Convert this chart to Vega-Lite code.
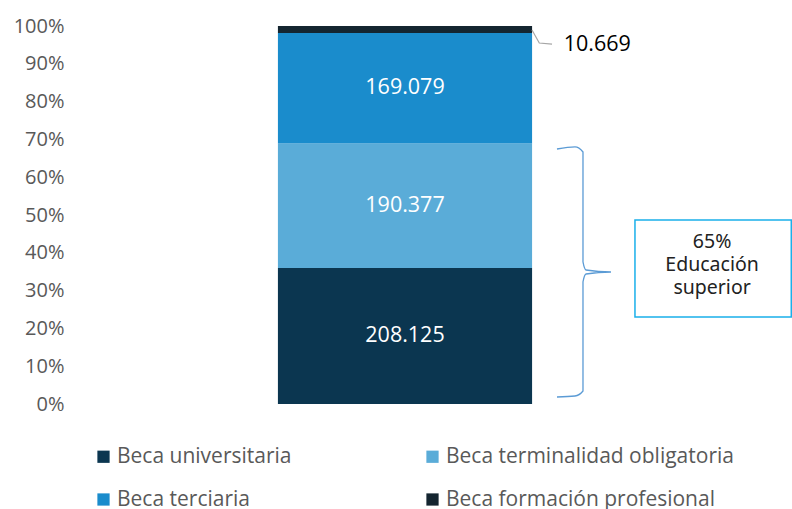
{
  "$schema": "https://vega.github.io/schema/vega-lite/v6.json",
  "autosize": "none",
  "width": 720,
  "height": 378,
  "padding": {"left": 72, "top": 26, "right": 0, "bottom": 105},
  "background": "white",
  "config": {
    "view": {"stroke": null},
    "font": "Open Sans",
    "locale": {"number": {"decimal": ",", "thousands": ".", "grouping": [3], "currency": ["$", ""]}}
  },
  "resolve": {"axis": {"y": "independent", "x": "independent"}},
  "datasets": {
    "becas": [
      {"cat": "Beca universitaria", "value": 208125},
      {"cat": "Beca terminalidad obligatoria", "value": 190377},
      {"cat": "Beca terciaria", "value": 169079},
      {"cat": "Beca formación profesional", "value": 10669}
    ],
    "brace": [
      {"i": 0, "bx": 67.36, "by": 0.6746},
      {"i": 1, "bx": 69.86, "by": 0.680},
      {"i": 2, "bx": 70.97, "by": 0.6667},
      {"i": 3, "bx": 70.97, "by": 0.3757},
      {"i": 4, "bx": 71.39, "by": 0.3545},
      {"i": 5, "bx": 74.86, "by": 0.3492},
      {"i": 6, "bx": 71.39, "by": 0.3439},
      {"i": 7, "bx": 70.97, "by": 0.3228},
      {"i": 8, "bx": 70.97, "by": 0.0344},
      {"i": 9, "bx": 69.86, "by": 0.0212},
      {"i": 10, "bx": 67.36, "by": 0.0185}
    ],
    "leader": [
      {"i": 0, "lx": 63.89, "ly": 0.9894},
      {"i": 1, "lx": 64.9, "ly": 0.955},
      {"i": 2, "lx": 66.67, "ly": 0.952}
    ],
    "box": [
      {"x1": 78.19, "x2": 99.9, "y1": 0.4868, "y2": 0.2302, "tx": 88.9, "ty": 0.4286, "label": "65%\nEducación\nsuperior"}
    ]
  },
  "layer": [
    {
      "data": {"name": "becas"},
      "transform": [
        {"stack": "value", "groupby": [], "offset": "normalize", "sort": [{"field": "value", "order": "descending"}], "as": ["y0", "y1"]}
      ],
      "mark": {"type": "bar"},
      "encoding": {
        "x": {"datum": 28.6, "type": "quantitative", "scale": {"domain": [0, 100]}, "axis": null},
        "x2": {"datum": 63.9},
        "y": {"field": "y0", "type": "quantitative", "scale": {"domain": [0, 1], "nice": false},
          "axis": {"values": [0, 0.1, 0.2, 0.3, 0.4, 0.5, 0.6, 0.7, 0.8, 0.9, 1], "format": ".0%", "labelOverlap": false, "title": null, "grid": false, "ticks": false, "domain": false, "labelFontSize": 20, "labelColor": "#595959", "labelPadding": 8}},
        "y2": {"field": "y1"},
        "color": {"field": "cat", "type": "nominal",
          "scale": {"domain": ["Beca universitaria", "Beca terminalidad obligatoria", "Beca terciaria", "Beca formación profesional"], "range": ["#0b3650", "#5aacd8", "#1a8ccc", "#142530"]},
          "legend": {"title": null, "orient": "none", "direction": "horizontal", "legendX": 21, "legendY": 420, "columns": 2, "columnPadding": 130, "rowPadding": 21, "padding": 0, "symbolType": "square", "symbolSize": 150, "symbolStrokeWidth": 0, "labelFontSize": 21, "labelColor": "#595959", "labelOffset": 3, "labelLimit": 400}}
      }
    },
    {
      "data": {"name": "becas"},
      "transform": [
        {"stack": "value", "groupby": [], "offset": "normalize", "sort": [{"field": "value", "order": "descending"}], "as": ["y0", "y1"]},
        {"filter": "datum.value > 20000"},
        {"fold": ["y0", "y1"], "as": ["edge", "pos"]},
        {"aggregate": [{"op": "mean", "field": "pos", "as": "mid"}], "groupby": ["cat", "value"]}
      ],
      "mark": {"type": "text", "color": "white", "fontSize": 21.5, "baseline": "middle", "align": "center"},
      "encoding": {
        "x": {"datum": 46.25, "type": "quantitative", "axis": null},
        "y": {"field": "mid", "type": "quantitative", "axis": null},
        "text": {"field": "value", "type": "quantitative", "format": ",d"}
      }
    },
    {
      "data": {"name": "becas"},
      "transform": [
        {"stack": "value", "groupby": [], "offset": "normalize", "sort": [{"field": "value", "order": "descending"}], "as": ["y0", "y1"]},
        {"filter": "datum.value < 20000"}
      ],
      "mark": {"type": "text", "color": "black", "fontSize": 21.5, "baseline": "middle", "align": "left", "dy": 12},
      "encoding": {
        "x": {"datum": 68.3, "type": "quantitative", "axis": null},
        "y": {"field": "y0", "type": "quantitative", "axis": null},
        "text": {"field": "value", "type": "quantitative", "format": ",d"}
      }
    },
    {
      "data": {"name": "leader"},
      "mark": {"type": "line", "color": "#a6a6a6", "strokeWidth": 1.2},
      "encoding": {
        "x": {"field": "lx", "type": "quantitative", "axis": null},
        "y": {"field": "ly", "type": "quantitative", "axis": null},
        "order": {"field": "i", "type": "quantitative"}
      }
    },
    {
      "data": {"name": "brace"},
      "mark": {"type": "line", "color": "#5b9bd5", "strokeWidth": 1.3, "interpolate": "monotone"},
      "encoding": {
        "x": {"field": "bx", "type": "quantitative", "axis": null},
        "y": {"field": "by", "type": "quantitative", "axis": null},
        "order": {"field": "i", "type": "quantitative"}
      }
    },
    {
      "data": {"name": "box"},
      "mark": {"type": "rect", "fill": "white", "stroke": "#1ab0ea", "strokeWidth": 1.5},
      "encoding": {
        "x": {"field": "x1", "type": "quantitative", "axis": null},
        "x2": {"field": "x2"},
        "y": {"field": "y1", "type": "quantitative", "axis": null},
        "y2": {"field": "y2"}
      }
    },
    {
      "data": {"name": "box"},
      "mark": {"type": "text", "color": "#222222", "fontSize": 19.5, "align": "center", "baseline": "middle", "lineBreak": "\n", "lineHeight": 23, "font": "Noto Sans"},
      "encoding": {
        "x": {"field": "tx", "type": "quantitative", "axis": null},
        "y": {"field": "ty", "type": "quantitative", "axis": null},
        "text": {"field": "label", "type": "nominal"}
      }
    }
  ]
}
